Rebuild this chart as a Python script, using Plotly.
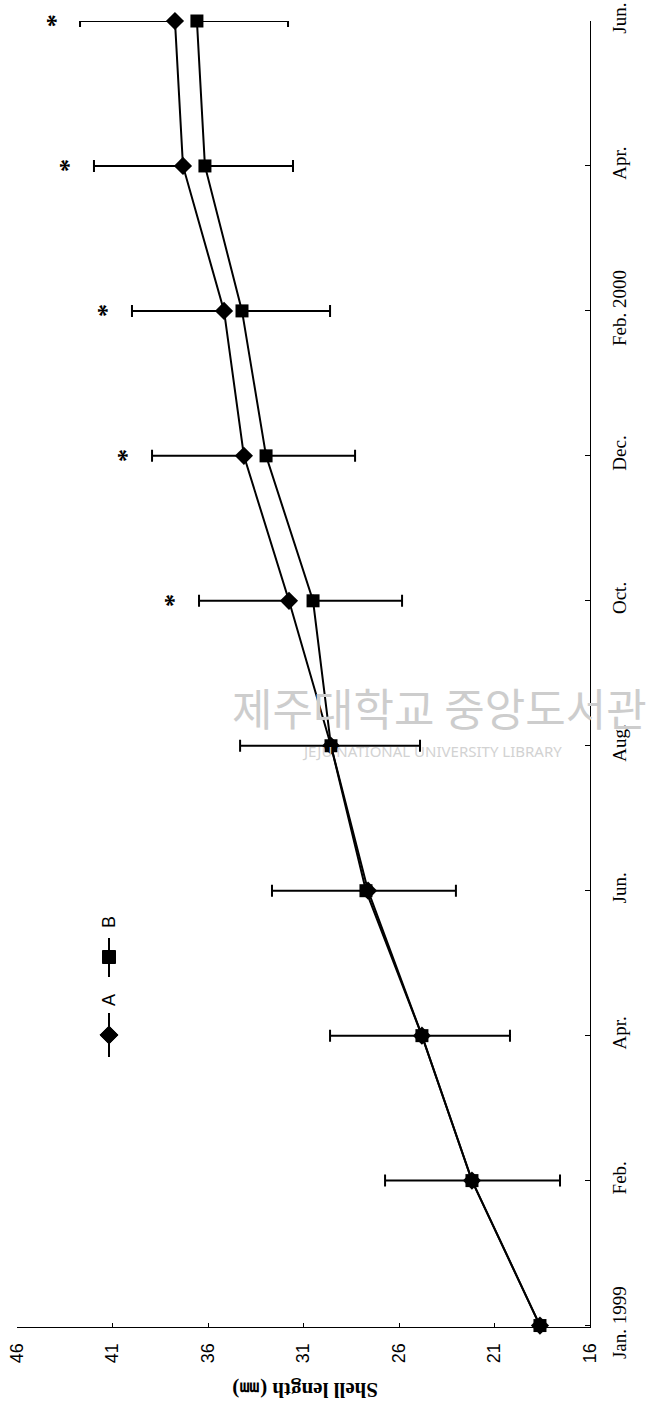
import plotly.graph_objects as go

# ---------------- data ----------------
periods = ["1999-01", "1999-02", "1999-04", "1999-06", "1999-08",
           "1999-10", "1999-12", "2000-02", "2000-04", "2000-06"]
period_labels = ["Jan. 1999", "Feb.", "Apr.", "Jun.", "Aug.",
                 "Oct.", "Dec.", "Feb. 2000", "Apr.", "Jun."]

group_a = [18.62, 22.18, 24.80, 27.62, 29.56, 31.76, 34.12, 35.16, 37.31, 37.73]
group_b = [18.62, 22.18, 24.80, 27.73, 29.56, 30.50, 32.96, 34.22, 36.16, 36.58]
sd_a = [0.0, 4.55, 4.81, 5.03, 4.76, 4.71, 4.81, 4.82, 4.66, 4.97]
sd_b = [0.0, 4.61, 4.61, 4.71, 4.66, 4.66, 4.66, 4.61, 4.61, 4.77]
significant = [False, False, False, False, False, True, True, True, True, True]

length_ticks = [46, 41, 36, 31, 26, 21, 16]

# ---------------- layout geometry ----------------
W, H = 653, 1408
PX0, PX1, PY0, PY1 = 17, 590, 21, 1327   # plot area in screen pixels
L, T = PX0, PY0
PW, PH = PX1 - PX0, PY1 - PY0
R, B = W - L - PW, H - T - PH


def px_x(x):
    return (x - PX0) / PW


def px_y(y):
    return (PY1 - y) / PH


FONT_SERIF = "Liberation Serif, Times New Roman, serif"
FONT_SANS = "Liberation Sans, Arial, sans-serif"

fig = go.Figure()

fig.add_trace(go.Scatter(
    x=group_a, y=periods, mode="lines+markers", name="A",
    line=dict(color="black", width=2),
    marker=dict(symbol="diamond", size=14, color="black"),
    error_x=dict(type="data", symmetric=False, array=sd_a,
                 arrayminus=[0] * len(sd_a), color="black",
                 thickness=2, width=6),
    cliponaxis=False, showlegend=False,
))
fig.add_trace(go.Scatter(
    x=group_b, y=periods, mode="lines+markers", name="B",
    line=dict(color="black", width=2),
    marker=dict(symbol="square", size=13, color="black"),
    error_x=dict(type="data", symmetric=False, array=[0] * len(sd_b),
                 arrayminus=sd_b, color="black",
                 thickness=2, width=6),
    cliponaxis=False, showlegend=False,
))

# legend glyphs (rotated legend drawn on a hidden overlay axis in paper units)
lx = px_x(109)
fig.add_trace(go.Scatter(
    x=[lx, lx, lx], y=[px_y(1057), px_y(1035), px_y(1013)],
    xaxis="x2", yaxis="y2", mode="lines+markers",
    line=dict(color="black", width=2),
    marker=dict(symbol="diamond", size=[0, 14, 0], color="black",
                opacity=1, line=dict(color="black", width=1)),
    showlegend=False, hoverinfo="skip", cliponaxis=False,
))
fig.add_trace(go.Scatter(
    x=[lx, lx, lx], y=[px_y(977), px_y(957), px_y(938)],
    xaxis="x2", yaxis="y2", mode="lines+markers",
    line=dict(color="black", width=2),
    marker=dict(symbol="square", size=[0, 13, 0], color="black",
                opacity=1, line=dict(color="black", width=1)),
    showlegend=False, hoverinfo="skip", cliponaxis=False,
))

annotations = []
# legend labels
for txt, py in (("A", 1000), ("B", 922)):
    annotations.append(dict(
        x=px_x(109), y=px_y(py), xref="paper", yref="paper",
        xanchor="center", yanchor="middle",
        text=txt, showarrow=False, textangle=-90,
        font=dict(family=FONT_SANS, size=18, color="black"),
    ))

# significance asterisks
for a, s, p, sig in zip(group_a, sd_a, periods, significant):
    if sig:
        annotations.append(dict(
            x=a + s + 1.3, y=p, xref="x", yref="y",
            xanchor="center", yanchor="middle",
            text="<b>*</b>", showarrow=False, textangle=-90,
            font=dict(family=FONT_SERIF, size=26, color="black"),
        ))

# axis title (upside-down, as in the rotated reference)
annotations.append(dict(
    x=px_x(305), y=px_y(1390), xref="paper", yref="paper",
    xanchor="center", yanchor="middle",
    text="<b>Shell length (㎜)</b>", showarrow=False, textangle=180,
    font=dict(family=FONT_SERIF, size=21, color="black"),
))

# library watermark
annotations.append(dict(
    x=px_x(440), y=px_y(707), xref="paper", yref="paper",
    xanchor="center", yanchor="middle",
    text="제주대학교 중앙도서관", showarrow=False,
    font=dict(family="Noto Sans CJK KR", size=44, color="#cdcdcd"),
))
annotations.append(dict(
    x=px_x(432), y=px_y(751), xref="paper", yref="paper",
    xanchor="center", yanchor="middle",
    text="JEJU NATIONAL UNIVERSITY LIBRARY", showarrow=False,
    font=dict(family="Noto Sans", size=15, color="#d2d2d2"),
))

fig.update_layout(
    width=W, height=H,
    margin=dict(l=L, r=R, t=T, b=B, pad=0, autoexpand=False),
    paper_bgcolor="white", plot_bgcolor="white",
    showlegend=False,
    annotations=annotations,
    xaxis=dict(
        range=[46, 16], tickmode="array", tickvals=length_ticks,
        ticktext=[str(v) for v in length_ticks], tickangle=-90,
        showgrid=False, zeroline=False, showline=True,
        linecolor="black", linewidth=1.2, automargin=False,
        ticks="inside", ticklen=4, tickcolor="black", tickwidth=1,
        ticklabelstandoff=8, ticklabeloverflow="allow",
        tickfont=dict(family=FONT_SANS, size=18, color="black"),
    ),
    yaxis=dict(
        type="category", categoryorder="array", categoryarray=periods,
        range=[-0.01, 9], side="right", automargin=False,
        tickmode="array", tickvals=periods, ticktext=period_labels,
        tickangle=-90,
        showgrid=False, zeroline=False, showline=True,
        linecolor="black", linewidth=1.2,
        ticks="inside", ticklen=5, tickcolor="black", tickwidth=1,
        ticklabelstandoff=12, ticklabeloverflow="allow",
        tickfont=dict(family=FONT_SERIF, size=19, color="black"),
    ),
    xaxis2=dict(overlaying="x", range=[0, 1], visible=False),
    yaxis2=dict(overlaying="y", range=[0, 1], visible=False),
)

fig.write_html(
    "out.html",
    config={"displayModeBar": False},
    post_script="document.body.style.margin='0';document.body.style.overflow='hidden';",
)
